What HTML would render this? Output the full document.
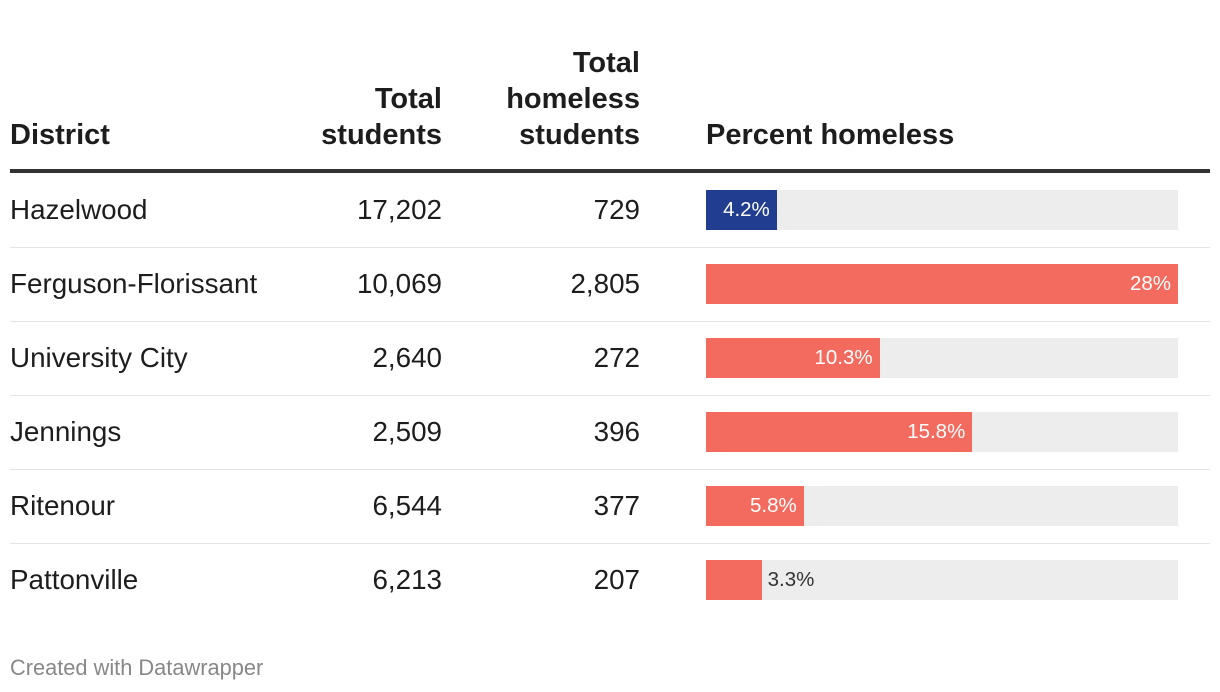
<!DOCTYPE html>
<html><head><meta charset="utf-8">
<style>
body{margin:0;width:1220px;height:692px;background:#fff;font-family:"Liberation Sans",Arial,sans-serif;color:#1d1d1d;position:relative;overflow:hidden}
.h{position:absolute;font-weight:bold;font-size:29px;line-height:36px}
.c{position:absolute;font-size:27.8px;line-height:30px}
.r{text-align:right}
.sep{position:absolute;left:10px;width:1200px;height:1px;background:#e4e4e4}
.bg{position:absolute;left:706px;width:472px;height:40px;background:#ededed}
.bar{position:absolute;left:706px;height:40px}
.lbl{position:absolute;font-size:20.5px;line-height:40px}
</style></head><body>
<div class="h" style="left:10px;top:117px">District</div>
<div class="h r" style="left:242px;width:200px;top:81px">Total<br>students</div>
<div class="h r" style="left:440px;width:200px;top:45px">Total<br>homeless<br>students</div>
<div class="h" style="left:706px;top:117px">Percent homeless</div>
<div style="position:absolute;left:10px;top:169px;width:1200px;height:4px;background:#333"></div>
<div id="rows"></div>
<div style="position:absolute;left:10px;top:655px;font-size:21.8px;color:#888">Created with Datawrapper</div>
<script>
const districts=["Hazelwood","Ferguson-Florissant","University City","Jennings","Ritenour","Pattonville"];
const totalStudents=["17,202","10,069","2,640","2,509","6,544","6,213"];
const homelessStudents=["729","2,805","272","396","377","207"];
const percents=[4.2,28,10.3,15.8,5.8,3.3];
const percentLabels=["4.2%","28%","10.3%","15.8%","5.8%","3.3%"];
const maxP=28, barW=472;
const root=document.getElementById('rows');
function x(v){return v/maxP*barW;}
districts.forEach((d,i)=>{
  const top=173+i*74;
  const mid=top+37;
  const mk=(cls,style,txt)=>{const e=document.createElement('div');e.className=cls;e.style.cssText=style;if(txt!==undefined)e.textContent=txt;root.appendChild(e);return e;};
  let e=mk('c','left:10px;top:'+(mid-15)+'px',d);
  
  
  e=mk('c r','left:242px;width:200px;top:'+(mid-15)+'px',totalStudents[i]);
  
  
  e=mk('c r','left:440px;width:200px;top:'+(mid-15)+'px',homelessStudents[i]);
  
  
  e=mk('bg','top:'+(mid-20)+'px');
  
  
  const w=x(percents[i]);
  e=mk('bar','top:'+(mid-20)+'px;width:'+w+'px;background:'+(i===0?'#213d8f':'#f26b5e'));
  
  
  let l;
  if(w>62){l=mk('lbl','left:706px;width:'+(w-7)+'px;text-align:right;color:#fff;top:'+(mid-20)+'px',percentLabels[i]);}
  else{l=mk('lbl','left:'+(706+w+6)+'px;color:#333;top:'+(mid-20)+'px',percentLabels[i]);}
  
  
  if(i<districts.length-1){e=mk('sep','top:'+(top+74)+'px');
  
  }
});
</script>
</body></html>
